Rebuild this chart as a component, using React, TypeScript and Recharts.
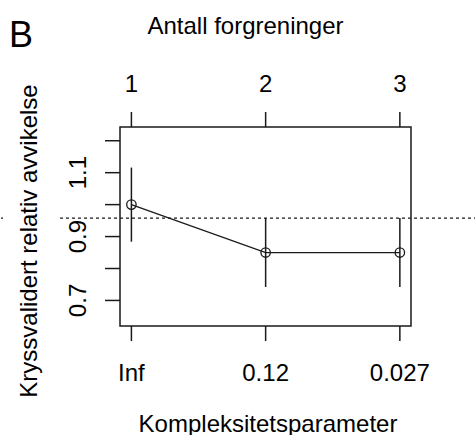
import React from 'react';
import {
    LineChart, Line, XAxis, YAxis, ErrorBar, ReferenceLine, ReferenceArea
} from 'recharts';

// cross-validated relative error per tree size (rpart cp table)
const SPLITS = [1, 2, 3];
const CP_LABELS = ['Inf', '0.12', '0.027'];
const REL_ERROR = [1.0, 0.85, 0.85];
const ERROR_SD = [0.116, 0.108, 0.108];

const Y_TICKS = [0.7, 0.8, 0.9, 1.0, 1.1, 1.2];
const Y_LABELS = ['0.7', '', '0.9', '', '1.1', ''];

const DATA = SPLITS.map((s, i) => ({ pos: s, cp: CP_LABELS[i], err: REL_ERROR[i], sd: ERROR_SD[i] }));

// 1-SE rule: smallest error plus its standard deviation
const BEST = REL_ERROR.indexOf(Math.min(...REL_ERROR));
const THRESHOLD = REL_ERROR[BEST] + ERROR_SD[BEST];

const INK = '#1a1a1a';
const FONT = '"Liberation Sans", Arial, Helvetica, sans-serif';
const X_DOMAIN = [0.915, 3.083];
const Y_DOMAIN = [0.62, 1.243];

const YTick = ({ x, y, payload }: any) => {
    const label = Y_LABELS[Y_TICKS.indexOf(payload.value)];
    if (!label) return <g />;
    return (
        <text x={x} y={y} transform={`rotate(-90, ${x}, ${y})`} textAnchor="middle" fontSize={24} fill="#000">
            {label}
        </text>
    );
};

// dotted line runs past the plot box, out to the page edge
const ThresholdLine = (p: any) => (
    <g>
        <line x1={1} x2={5} y1={p.y1} y2={p.y1} stroke={INK} strokeWidth={1.3} strokeDasharray="2 3" />
        <line x1={60} x2={475} y1={p.y1} y2={p.y1} stroke={INK} strokeWidth={1.3} strokeDasharray="3 3" />
    </g>
);

export default function App() {
    return (
        <div style={{ position: 'absolute', left: 0, top: 0, width: 475, height: 435, background: '#fff', fontFamily: FONT }}>
            <LineChart width={475} height={435} data={DATA} margin={{ top: 67, right: 64, bottom: 49, left: 60 }}>
                <XAxis
                    dataKey="pos" type="number" domain={X_DOMAIN} allowDataOverflow ticks={SPLITS} interval={0}
                    tickFormatter={(v) => CP_LABELS[SPLITS.indexOf(v)]}
                    height={60} axisLine={false} tickSize={15} tickMargin={23}
                    tickLine={{ stroke: INK, strokeWidth: 1.5 }}
                    tick={{ fontSize: 24, fill: '#000' }}
                />
                <XAxis
                    xAxisId="top" orientation="top" dataKey="pos" type="number" domain={X_DOMAIN} allowDataOverflow
                    ticks={SPLITS} interval={0} tickFormatter={(v) => String(v)}
                    height={60} axisLine={false} tickSize={15} tickMargin={20}
                    tickLine={{ stroke: INK, strokeWidth: 1.5 }}
                    tick={{ fontSize: 24, fill: '#000' }}
                />
                <YAxis
                    type="number" domain={Y_DOMAIN} allowDataOverflow ticks={Y_TICKS} interval={0}
                    width={60} axisLine={false} tickSize={15} tickMargin={19}
                    tickLine={{ stroke: INK, strokeWidth: 1.5 }}
                    tick={<YTick />}
                />
                <ReferenceArea x1={X_DOMAIN[0]} x2={X_DOMAIN[1]} y1={Y_DOMAIN[0]} y2={Y_DOMAIN[1]}
                    fill="none" fillOpacity={0} stroke={INK} strokeWidth={1.5} ifOverflow="visible" />
                <ReferenceLine y={THRESHOLD} shape={ThresholdLine} ifOverflow="visible" />
                <Line
                    dataKey="err" stroke={INK} strokeWidth={1.3} isAnimationActive={false}
                    dot={{ r: 4.7, fill: 'none', stroke: INK, strokeWidth: 1.3 }} activeDot={false}
                >
                    <ErrorBar dataKey="sd" direction="y" width={0} stroke={INK} strokeWidth={1.5} isAnimationActive={false} />
                </Line>

                <text x={9} y={46.5} fontSize={36} fill="#000">B</text>
                <text x={245.5} y={34} fontSize={24} fill="#000" textAnchor="middle">Antall forgreninger</text>
                <text x={268} y={431.5} fontSize={24} fill="#000" textAnchor="middle">Kompleksitetsparameter</text>
                <text x={37} y={241} fontSize={24} fill="#000" textAnchor="middle" transform="rotate(-90, 37, 241)">
                    Kryssvalidert relativ avvikelse
                </text>
            </LineChart>
        </div>
    );
}
